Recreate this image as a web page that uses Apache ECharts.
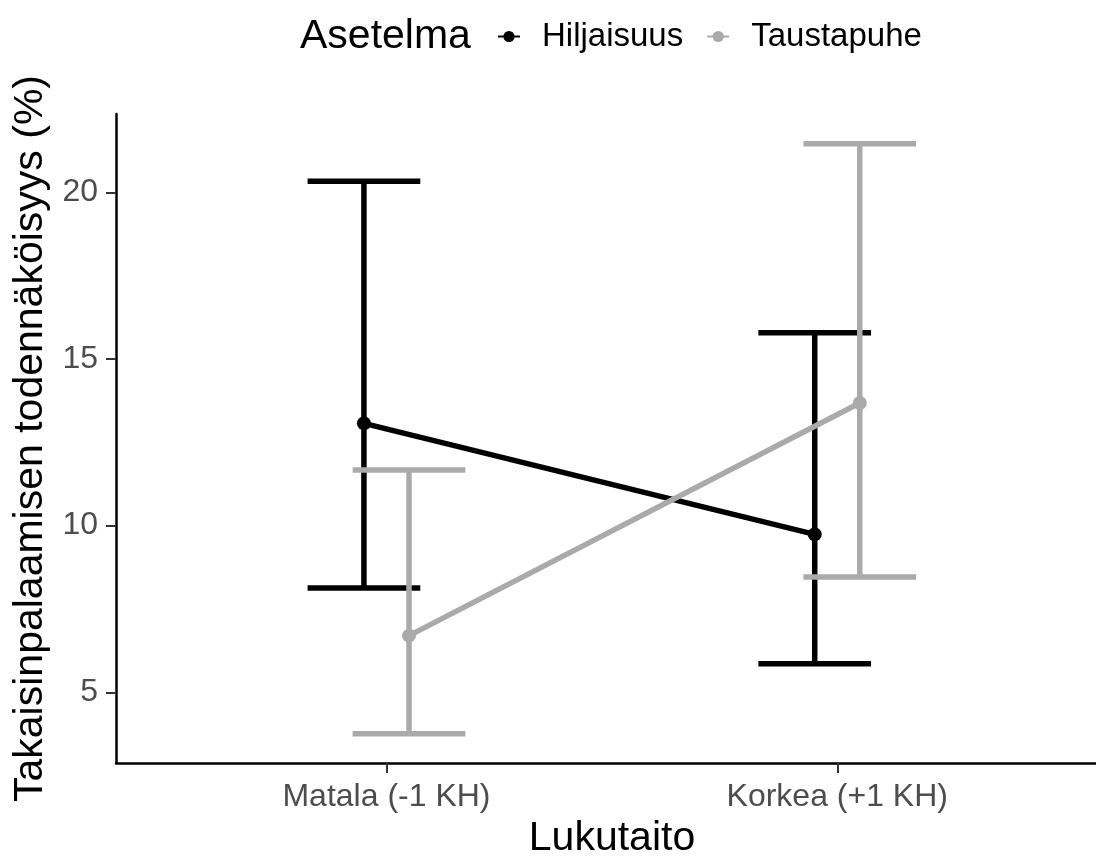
<!DOCTYPE html>
<html>
<head>
<meta charset="utf-8">
<script src="https://cdn.jsdelivr.net/npm/echarts@6/dist/echarts.min.js"></script>
<style>
html,body{margin:0;padding:0;background:#fff;}
#chart{width:1096px;height:856px;}
</style>
</head>
<body>
<div id="chart"></div>
<script>
// ---- data ----
const categories = ['Matala (-1 KH)', 'Korkea (+1 KH)'];
const groupNames = ['Hiljaisuus', 'Taustapuhe'];
const hiljaisuusMean = [13.07, 9.74];
const hiljaisuusLow  = [8.13, 5.86];
const hiljaisuusHigh = [20.33, 15.79];
const taustapuheMean = [6.70, 13.68];
const taustapuheLow  = [3.76, 8.46];
const taustapuheHigh = [11.67, 21.46];
const yTicks = [5, 10, 15, 20];
const xTicks = [1, 2];

// ---- styling / layout ----
const FONT = 'Liberation Sans, Arial, sans-serif';
const colors = ['#000000', '#AAAAAA'];
const dodge = [-0.05, 0.05];
const CAP_HALF = 0.125;
const LW = 5.5;

const groups = [
  {mean: hiljaisuusMean, low: hiljaisuusLow, high: hiljaisuusHigh},
  {mean: taustapuheMean, low: taustapuheLow, high: taustapuheHigh}
];

function makeErrorRender(color) {
  return function (params, api) {
    const x = api.value(0), lo = api.value(1), hi = api.value(2);
    const pLo = api.coord([x, lo]);
    const pHi = api.coord([x, hi]);
    const half = api.size([CAP_HALF, 0])[0];
    const style = {stroke: color, lineWidth: LW, lineCap: 'butt'};
    return {
      type: 'group',
      children: [
        {type: 'line', shape: {x1: pLo[0], y1: pLo[1], x2: pHi[0], y2: pHi[1]}, style: style},
        {type: 'line', shape: {x1: pHi[0] - half, y1: pHi[1], x2: pHi[0] + half, y2: pHi[1]}, style: style},
        {type: 'line', shape: {x1: pLo[0] - half, y1: pLo[1], x2: pLo[0] + half, y2: pLo[1]}, style: style}
      ]
    };
  };
}

const series = [];
groups.forEach((g, gi) => {
  series.push({
    name: groupNames[gi] + ' (virhe)',
    type: 'custom',
    renderItem: makeErrorRender(colors[gi]),
    encode: {x: 0, y: [1, 2]},
    data: categories.map((c, i) => [xTicks[i] + dodge[gi], g.low[i], g.high[i]]),
    z: 2,
    silent: true
  });
});
groups.forEach((g, gi) => {
  series.push({
    name: groupNames[gi],
    type: 'line',
    data: categories.map((c, i) => [xTicks[i] + dodge[gi], g.mean[i]]),
    symbol: 'circle',
    symbolSize: 14,
    itemStyle: {color: colors[gi]},
    lineStyle: {color: colors[gi], width: LW},
    z: 3
  });
});

const chart = echarts.init(document.getElementById('chart'), null, {renderer: 'canvas'});
chart.setOption({
  animation: false,
  backgroundColor: '#ffffff',
  textStyle: {fontFamily: FONT},
  graphic: [{
    type: 'text',
    left: 300,
    top: 16,
    style: {text: 'Asetelma', font: '41px ' + FONT, fill: '#000000'}
  }],
  legend: {
    data: groupNames,
    left: 492,
    top: 15,
    itemWidth: 22,
    itemHeight: 14,
    itemGap: 23,
    textStyle: {fontSize: 33, color: '#000000', fontFamily: FONT, padding: [0, 0, 0, 17]}
  },
  grid: {left: 116, right: 0, top: 114, bottom: 93, containLabel: false, outerBoundsMode: 'none'},
  xAxis: {
    type: 'value',
    min: 0.4,
    max: 2.574,
    name: 'Lukutaito',
    nameLocation: 'middle',
    nameGap: 46,
    nameTextStyle: {fontSize: 41, color: '#000000', fontFamily: FONT, padding: [0, 0, 0, 12]},
    axisLine: {show: true, onZero: false, lineStyle: {color: '#000000', width: 2.5}},
    axisTick: {show: true, customValues: xTicks, length: 10, lineStyle: {color: '#333333', width: 2}},
    axisLabel: {
      customValues: xTicks,
      formatter: v => categories[Math.round(v) - 1] || '',
      fontSize: 32, color: '#4D4D4D', margin: 18, fontFamily: FONT
    },
    splitLine: {show: false}
  },
  yAxis: {
    type: 'value',
    min: 2.88,
    max: 22.35,
    name: 'Takaisinpalaamisen todennäköisyys (%)',
    nameLocation: 'middle',
    nameRotate: 90,
    nameGap: 62,
    nameTextStyle: {fontSize: 41, color: '#000000', fontFamily: FONT},
    axisLine: {show: true, lineStyle: {color: '#000000', width: 2.5}},
    axisTick: {show: true, customValues: yTicks, length: 10, lineStyle: {color: '#333333', width: 2}},
    axisLabel: {customValues: yTicks, fontSize: 32, color: '#4D4D4D', margin: 18, fontFamily: FONT},
    splitLine: {show: false}
  },
  series: series
});
</script>
</body>
</html>
